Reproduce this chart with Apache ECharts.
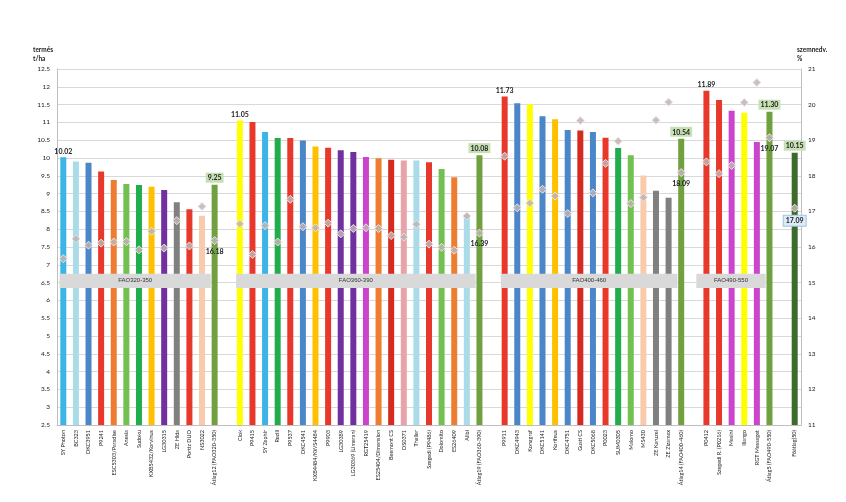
<!DOCTYPE html>
<html>
<head>
<meta charset="utf-8">
<script src="https://cdn.jsdelivr.net/npm/echarts@6/dist/echarts.min.js"></script>
<style>
  html, body { margin: 0; padding: 0; background: #fff; }
  #chart { width: 846px; height: 502px; }
</style>
</head>
<body>
<div id="chart"></div>
<script>
// hybrids per FAO group, yield (t/ha) and grain moisture (%)
var fao1Names = ['SY Photon', 'BC323', 'DKC3951', 'P9241', 'ESC5303/Paradise', 'Anesia', 'Sudoku', 'KXB5432/Korvinus', 'LG30315', 'ZE Hida', 'Portiz DUO', 'NS3022', 'Átlag12 (FAO320-350)'];
var fao1Yield = [10.02, 9.90, 9.87, 9.62, 9.38, 9.27, 9.24, 9.19, 9.10, 8.76, 8.56, 8.38, 9.25];
var fao1Moist = [15.67, 16.23, 16.05, 16.11, 16.14, 16.15, 15.92, 16.44, 15.97, 16.74, 16.03, 17.14, 16.18];

var fao2Names = ['Clok', 'P9415', 'SY Zephir', 'Rezili', 'P9537', 'DKC4541', 'KXB4484/KWS4484', 'P9903', 'LG30389', 'LG30369 (Limeran)', 'RGT25419', 'ES25404/Dimension', 'Beemont CS', 'DS0371', 'Thaller', 'Szegedi (P9486)', 'Dolomito', 'ES26409', 'Alibi', 'Átlag19 (FAO360-390)'];
var fao2Yield = [11.05, 11.01, 10.73, 10.56, 10.56, 10.49, 10.32, 10.29, 10.22, 10.17, 10.03, 9.99, 9.95, 9.93, 9.93, 9.88, 9.69, 9.46, 8.42, 10.08];
var fao2Moist = [16.65, 15.79, 16.60, 16.14, 17.34, 16.57, 16.54, 16.67, 16.37, 16.52, 16.54, 16.52, 16.32, 16.28, 16.64, 16.08, 15.99, 15.91, 16.87, 16.39];

var fao3Names = ['P9911', 'DKC4943', 'Konagraf', 'DKC5141', 'Korifeus', 'DKC4751', 'Gusti CS', 'DKC5068', 'P0023', 'SUM0305', 'Malomo', 'MS430', 'ZE Karuzel', 'ZE Zizamax', 'Átlag14 (FAO400-460)'];
var fao3Yield = [11.73, 11.54, 11.51, 11.17, 11.09, 10.79, 10.77, 10.73, 10.57, 10.28, 10.08, 9.51, 9.08, 8.88, 10.54];
var fao3Moist = [18.55, 17.10, 17.23, 17.62, 17.43, 16.94, 19.55, 17.52, 18.35, 18.97, 17.22, 17.39, 19.56, 20.07, 18.09];

var fao4Names = ['P0412', 'Szegedi R. (P0216)', 'Mesini', 'Illango', 'RGT Messaget', 'Átlag5 (FAO490-550)'];
var fao4Yield = [11.89, 11.63, 11.33, 11.27, 10.45, 11.30];
var fao4Moist = [18.39, 18.06, 18.29, 20.06, 20.62, 19.07];

var overallName = 'Főátlag(50)';
var overallYield = 10.15;
var overallMoist = 17.09;

var groupLabels = ['FAO320-350', 'FAO360-390', 'FAO400-460', 'FAO490-550'];

// bar colours, one per hybrid
var fao1Colors = ['#3cb4e6', '#a9dce8', '#4a86c8', '#e8382b', '#ee7d31', '#72c04f', '#22ad4c', '#ffc000', '#7030a0', '#808080', '#e8382b', '#f9cbac', '#70a040'];
var fao2Colors = ['#ffff00', '#e8382b', '#3cb4e6', '#22ad4c', '#e8382b', '#4a86c8', '#ffc000', '#e8382b', '#7030a0', '#7030a0', '#cc44cc', '#ee7d31', '#d42a20', '#e6a3aa', '#a9dce8', '#e8382b', '#72c04f', '#ee7d31', '#a9dce8', '#70a040'];
var fao3Colors = ['#e8382b', '#4a86c8', '#ffff00', '#4a86c8', '#ffc000', '#4a86c8', '#d42a20', '#4a86c8', '#e8382b', '#22ad4c', '#72c04f', '#f9cbac', '#808080', '#808080', '#70a040'];
var fao4Colors = ['#e8382b', '#e8382b', '#cc44cc', '#ffff00', '#cc44cc', '#70a040'];
var overallColor = '#3d6b2a';

var groups = [
  [fao1Names, fao1Yield, fao1Moist, fao1Colors],
  [fao2Names, fao2Yield, fao2Moist, fao2Colors],
  [fao3Names, fao3Yield, fao3Moist, fao3Colors],
  [fao4Names, fao4Yield, fao4Moist, fao4Colors]
];

var FONT = 'Lato, sans-serif';
var valueLabel = {
  show: true, position: 'top', distance: 2, fontSize: 7, fontWeight: 'bold',
  fontFamily: FONT, color: '#222',
  formatter: function (p) { return p.value.toFixed(2); }
};
var avgLabel = Object.assign({}, valueLabel, {
  backgroundColor: '#c6e0b4', padding: [2, 2, 1, 2]
});
var moistLabel = {
  show: true, position: 'bottom', distance: 3, fontSize: 7, fontWeight: 'bold',
  fontFamily: FONT, color: '#222',
  formatter: function (p) { return p.value.toFixed(2); }
};
var overallMoistLabel = Object.assign({}, moistLabel, {
  backgroundColor: '#ddebf7', borderColor: '#9dc3e6', borderWidth: 1, padding: [2, 2, 1, 2]
});

var categories = [];
var barData = [];
var moistData = [];
var bandData = [];
var gap = ' ';

groups.forEach(function (g) {
  var start = categories.length;
  g[0].forEach(function (name, i) {
    var last = i === g[0].length - 1;
    categories.push(name);
    barData.push({
      value: g[1][i],
      itemStyle: { color: g[3][i] },
      label: i === 0 ? valueLabel : (last ? avgLabel : { show: false })
    });
    moistData.push({
      value: g[2][i],
      label: last ? moistLabel : { show: false }
    });
  });
  bandData.push([start, categories.length - 1]);
  categories.push(gap);
  barData.push(null);
  moistData.push(null);
  gap += ' ';
});
categories.push(overallName);
barData.push({ value: overallYield, itemStyle: { color: overallColor }, label: avgLabel });
moistData.push({ value: overallMoist, label: overallMoistLabel });

var BAND_LOW = 6.35, BAND_HIGH = 6.75;

var myChart = echarts.init(document.getElementById('chart'));

var option = {
  animation: false,
  backgroundColor: '#fff',
  textStyle: { fontFamily: FONT },
  title: [
    { text: 'termés\nt/ha', left: 28, top: 40,
      textStyle: { fontSize: 6.5, fontWeight: 'bold', lineHeight: 9, color: '#222', fontFamily: FONT } },
    { text: 'szemnedv.\n%', left: 792, top: 40,
      textStyle: { fontSize: 6.5, fontWeight: 'bold', lineHeight: 9, color: '#222', fontFamily: FONT } }
  ],
  grid: { left: 57, right: 45, top: 69, bottom: 77, containLabel: false },
  xAxis: {
    type: 'category',
    data: categories,
    axisLine: { lineStyle: { color: '#bfbfbf' } },
    axisTick: { show: false },
    axisLabel: {
      interval: 0, rotate: 90, fontSize: 5.5, color: '#222', margin: 5, fontFamily: FONT
    }
  },
  yAxis: [
    {
      type: 'value', min: 2.5, max: 12.5, interval: 0.5,
      axisLine: { show: true, lineStyle: { color: '#bfbfbf' } },
      axisTick: { show: false },
      axisLabel: { fontSize: 6.5, color: '#222', margin: 7, fontFamily: FONT },
      splitLine: { lineStyle: { color: '#d9d9d9', width: 1.2 } }
    },
    {
      type: 'value', min: 11, max: 21, interval: 1,
      axisLine: { show: true, lineStyle: { color: '#bfbfbf' } },
      axisTick: { show: false },
      axisLabel: { fontSize: 6.5, color: '#222', margin: 7, fontFamily: FONT },
      splitLine: { show: false }
    }
  ],
  series: [
    {
      name: 'termés',
      type: 'bar',
      barWidth: 6,
      data: barData,
      z: 2
    },
    {
      name: 'FAO',
      type: 'custom',
      z: 4,
      data: bandData,
      encode: { x: [0, 1] },
      renderItem: function (params, api) {
        var a = api.coord([api.value(0), BAND_HIGH]);
        var b = api.coord([api.value(1), BAND_LOW]);
        var w = api.size([1, 0])[0];
        // the last band starts a bit earlier, in the gap before it
        var x0 = a[0] - (params.dataIndex === 3 ? 0.8 : 0.3) * w;
        var x1 = b[0] - 0.3 * w;
        return {
          type: 'rect',
          shape: { x: x0, y: a[1], width: x1 - x0, height: b[1] - a[1] },
          style: { fill: '#d9d9d9' },
          textContent: {
            style: { text: groupLabels[params.dataIndex], fontSize: 6, fill: '#333', fontFamily: 'Liberation Sans, sans-serif' }
          },
          textConfig: { position: 'inside' }
        };
      }
    },
    {
      name: 'szemnedv.',
      type: 'line',
      yAxisIndex: 1,
      symbol: 'diamond',
      symbolSize: 8,
      lineStyle: { width: 0, opacity: 0 },
      itemStyle: { color: 'rgba(192,180,180,0.85)', borderColor: '#ece6e6', borderWidth: 1 },
      data: moistData,
      z: 5
    }
  ]
};

myChart.setOption(option);
</script>
</body>
</html>
